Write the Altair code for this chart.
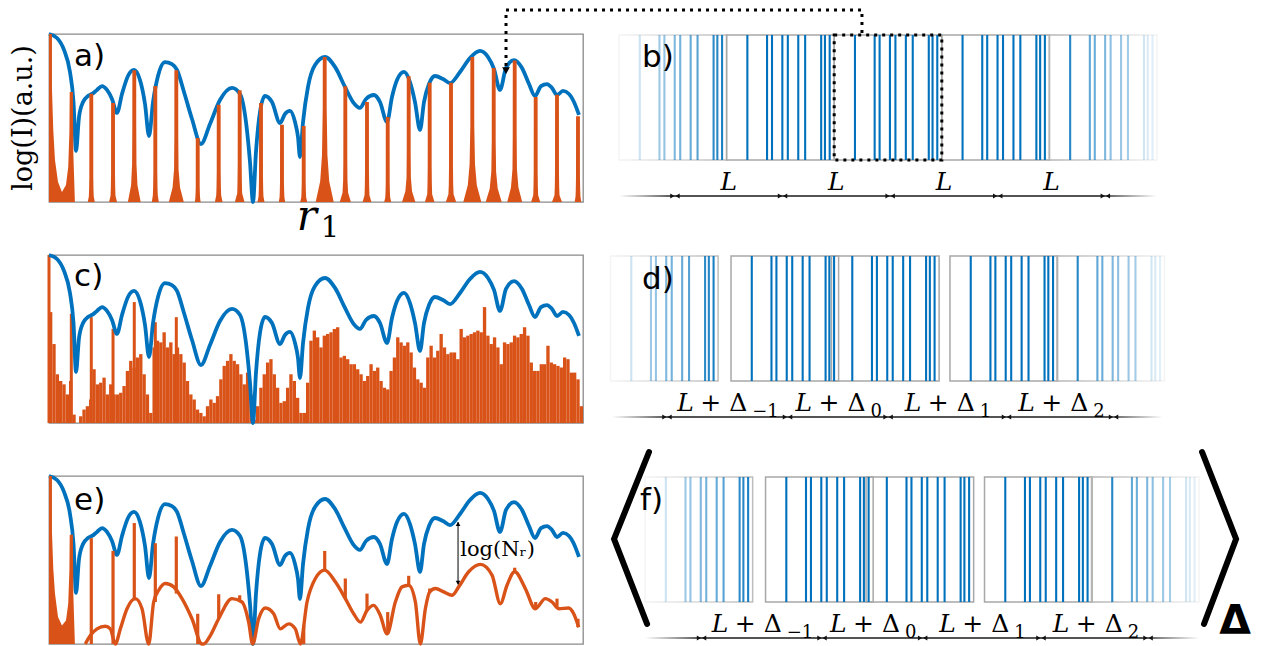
import altair as alt
import pandas as pd

BLUE = "#0072BD"
ORANGE = "#D95319"
FRAME = "#8a8a8a"
BOXGRAY = "#a8a8a8"
SERIF = "DejaVu Serif"
SANS = "DejaVu Sans"

# ---------------- left column: r1 (a.u., 0-100) vs log(I) (a.u., 0-100) ----------------
blue_x = [0, 1.5, 2.81, 3.93, 4.59, 5.06, 5.62, 6.37, 7.30, 8.05, 8.99, 9.93, 10.86, 11.80, 12.73,
          13.67, 14.79, 15.92, 17.04, 17.98, 18.73, 19.48, 20.41, 21.72, 23.03, 23.97, 25.28, 26.78,
          28.46, 30.15, 32.02, 34.27, 35.77, 36.89, 37.64, 38.20, 38.76, 39.51, 40.45, 41.76, 43.26,
          44.19, 45.13, 46.07, 46.63, 47.00, 47.57, 48.50, 49.81, 51.69, 53.56, 55.43, 56.93, 58.24,
          59.36, 60.86, 61.99, 63.30, 64.23, 65.17, 66.48, 67.60, 68.54, 69.48, 70.22, 71.16, 72.28,
          73.78, 75.09, 76.97, 78.84, 80.71, 82.21, 83.33, 84.46, 85.58, 87.08, 88.58, 89.89, 91.01,
          92.13, 93.26, 94.19, 95.13, 96.25, 97.38, 98.31, 99.25]
blue_y = [100, 97.6, 90.5, 77.4, 59.5, 30.4, 50.6, 59.5, 63.1, 64.3, 66.7, 69.0, 66.7, 61.3, 53.0,
          64.3, 75.0, 78.6, 72.6, 58.3, 39.3, 59.5, 75.0, 83.3, 82.1, 78.6, 65.5, 49.4,
          34.5, 46.4, 60.7, 67.9, 64.3, 47.6, 23.8, 0, 29.8, 53.6, 63.1, 59.5, 47.0,
          52.4, 54.2, 47.6, 38.7, 26.8, 47.6, 68.5, 81.5, 86.3, 80.4, 68.5, 59.5, 56.0,
          61.3, 63.7, 59.5, 47.6, 62.5, 72.6, 77.4, 71.4, 59.5, 42.9, 59.5, 70.2, 75.0,
          73.2, 70.8, 77.4, 85.7, 89.9, 86.3, 79.2, 66.7, 79.8, 84.5, 79.8, 70.2, 63.1,
          69.0, 70.2, 67.9, 63.7, 66.1, 64.3, 59.5, 51.8]

peak_x = [0, 4.18, 7.92, 11.99, 15.97, 19.91, 23.84, 27.85, 31.78, 35.71, 39.70, 43.63, 47.70,
          51.63, 55.49, 59.55, 63.43, 67.36, 71.29, 75.28, 79.27, 83.28, 87.21, 91.14, 95.13, 99.06]
a_peak_h = [100, 65.5, 64.5, 58.9, 78.4, 69.0, 78.4, 38.1, 57.9, 66.5, 58.9, 46.0, 45.2,
            86.3, 68.9, 59.5, 50.6, 74.8, 71.0, 71.0, 86.3, 79.8, 84.3, 62.5, 63.9, 51.0]
# base half-width and shoulder height of peaks 2..25 in a)
a_hw = [0.66, 0.75, 1.2, 0.66, 1.40, 0.55, 0.72, 0.9, 0.66, 0.6, 0.66, 1.69,
        1.05, 0.83, 0.66, 1.25, 0.9, 0.97, 1.69, 1.5, 1.40, 0.86, 0.94, 0.62]
a_sh = [15, 17, 45, 18, 39, 9, 18, 24, 15, 12, 12, 56,
        25, 18, 12, 29, 21, 21, 45, 36, 39, 18, 18, 15]
left_x = [0, 0.01, 0.55, 0.56, 0.8, 1.12, 1.69, 2.43, 3.18, 3.6, 3.82, 3.88, 4.48, 4.55, 4.85]
a_left_y = [0, 100, 100, 66.7, 42.9, 25.0, 11.9, 6.0, 10.1, 20.8, 41.7, 65.5, 65.5, 29.8, 0]
e_left_y = [0, 100, 100, 66, 45, 30, 16, 11, 14, 24, 44, 65, 65, 30, 0]

c_bin = 0.625
c_noise = [66, 47, 29, 25, 23, 17, 25, 5, 0, 4, 8, 10, 14, 32, 23, 24, 27, 17, 23, 17,
           17, 18, 22, 31, 37, 33, 39, 41, 29, 17, 6, 45, 49, 48, 54, 45, 48, 41, 45, 41,
           36, 25, 17, 14, 8, 6, 4, 10, 14, 12, 16, 26, 34, 37, 41, 37, 35, 29, 23, 30,
           17, 2, 10, 21, 29, 36, 38, 29, 21, 12, 13, 21, 29, 25, 15, 6,
           6, 24, 49, 55, 51, 45, 52, 53, 54, 56, 57, 39, 40, 38, 35, 35, 32, 29, 25, 28,
           35, 31, 33, 25, 21, 20, 31, 39, 51, 48, 46, 48, 42, 33, 26, 24, 21, 39, 46, 39,
           43, 53, 45, 41, 42, 42, 38, 56, 51, 52, 53, 54, 55, 54, 69, 52, 47, 51, 45, 35,
           48, 47, 48, 52, 51, 53, 57, 52, 36, 31, 31, 35, 35, 46, 36, 35, 34, 33, 39, 38,
           30, 30, 26, 10]
c_peak_h = [100, 65, 63, 56, 72, 60, 63]

e_curve_x = [6.80, 7.74, 8.99, 10.55, 11.49, 12.42, 13.36, 14.61, 16.17, 17.42, 18.67, 19.60,
             20.54, 21.79, 23.35, 24.91, 26.78, 28.65, 28.96, 30.21, 31.77, 34.27, 36.14, 37.39,
             38.14, 39.26, 40.51, 42.07, 43.32, 44.88, 46.13, 47.07, 48.32, 49.88, 51.63, 53.62,
             55.50, 57.06, 58.31, 59.55, 60.80, 62.05, 63.30, 64.86, 66.11, 67.36, 68.61, 69.54,
             70.48, 71.29, 72.35, 73.91, 75.47, 76.72, 78.59, 80.78, 82.96, 84.52, 85.77, 87.21,
             89.20, 91.08, 92.95, 94.20, 95.45, 97.32, 98.26, 99.19]
e_curve_y = [0, 5, 9, 10.6, 9, 0, 9, 21, 27, 21, 0, 25,
             32, 36, 34, 27, 15, 0, 0, 5, 15, 27, 25, 13,
             0, 15, 21.4, 18, 9, 12, 9, 0, 25, 39, 44, 37,
             27, 18, 13, 20, 23, 17, 6, 25, 34, 35, 25, 0,
             21, 31, 33, 31, 29, 34, 43, 47.4, 41, 24, 35, 43,
             33, 21, 27, 25, 21, 21.4, 18, 10]
e_spk_k = [2, 3, 4, 5, 6, 7, 8, 9, 12, 13, 14, 15, 16, 17, 18, 22, 23, 24, 25]
e_spk_top = [63, 55.4, 72, 60, 64, 18, 29.6, 29, 11, 55.4, 39, 30, 19, 40.6, 33, 45.4, 25, 27, 15]
e_spk_base = [0, 0, 26, 25, 30, 0, 15, 25, 0, 44, 27, 20, 6, 35, 31, 43, 21, 22, 10]

# ---------------- right column: positions in units of L, heights in units of a cell ----------------
pattern = [0.193, 0.376, 0.422, 0.518, 0.569, 0.666, 0.730, 0.879, 0.914, 0.958]
fade_in = [0.2, 0.38, 0.42, 0.5, 0.55, 0.6, 0.65, 0.82, 0.85, 0.9]
fade_out = [0.85, 0.62, 0.58, 0.5, 0.45, 0.4, 0.36, 0.18, 0.15, 0.12]
b_start = [0, 1, 2, 3, 4]
d_start = [0, 1.12, 2.054, 3.155, 4.149]
b_tick = [0.52, 1.52, 2.52, 3.52, 4.52]
d_tick = [0.525, 1.645, 2.58, 3.68, 4.675]
b_lab = [1.02, 2.02, 3.02, 4.02]
d_lab = [0.62, 1.72, 2.735, 3.79]
subs = ["\u22121", "0", "1", "2"]

W_L, H, W_R = 534, 168, 650
LX = alt.Scale(domain=[0, 100], nice=False, zero=False)
LY = alt.Scale(domain=[0, 100], nice=False, zero=False)


def lx(f="x"):
    return alt.X(f"{f}:Q", scale=LX, axis=None)


def ly(f="y"):
    return alt.Y(f"{f}:Q", scale=LY, axis=None, stack=None)


def txt(df_rows, **kw):
    df = pd.DataFrame(df_rows, columns=["x", "y", "t"])
    return alt.Chart(df).mark_text(color="black", **kw).encode(x=lx(), y=ly(), text="t:N")


def spikes_a():
    rows = []
    for xv, yv in zip(left_x, a_left_y):
        rows.append({"x": xv, "y": yv, "g": "L"})
    c = 0.36
    for k in range(2, 26):
        xc, h = peak_x[k], a_peak_h[k]
        hw, s = a_hw[k - 2], a_sh[k - 2]
        m1 = max(0.5 * hw, c + 0.1)
        m2 = max(0.3 * hw, c + 0.05)
        xs = [xc - hw, xc - m1, xc - m2, xc - c - 0.01, xc - c, xc + c, xc + c + 0.01, xc + m2, xc + m1, xc + hw]
        ys = [0, 0.22 * s, 0.5 * s, s, h, h, s, 0.5 * s, 0.22 * s, 0]
        for xv, yv in zip(xs, ys):
            rows.append({"x": xv, "y": yv, "g": f"k{k}"})
    return pd.DataFrame(rows)


blue_df = pd.DataFrame({"x": blue_x, "y": blue_y})
blue = alt.Chart(blue_df).mark_line(color=BLUE, strokeWidth=3.8, interpolate="monotone").encode(x=lx(), y=ly())

FRAME_VIEW = alt.ViewBackground(stroke=FRAME, strokeWidth=1.3)

# panel a
anchor = alt.Chart(pd.DataFrame({"x": [-8.8], "y": [119.05]})).mark_point(
    size=1, opacity=0, strokeWidth=0).encode(x=lx(), y=ly())
a_area = alt.Chart(spikes_a()).mark_area(color=ORANGE).encode(x=lx(), y=ly(), detail="g:N")
a_chart = alt.layer(
    anchor, blue, a_area,
    txt([[4.7, 81, "a)"]], font=SANS, fontSize=31, align="left", baseline="alphabetic"),
    txt([[-4.68, 50, "log(I)(a.u.)"]], font=SERIF, fontSize=27, angle=270, align="center", baseline="middle"),
    txt([[46.4, -16.7, "r"]], font=SERIF, fontSize=42, fontStyle="italic", align="left", baseline="alphabetic"),
    txt([[50.9, -20.8, "1"]], font=SERIF, fontSize=29, align="left", baseline="alphabetic"),
).properties(width=W_L, height=H, view=FRAME_VIEW)

# panel c
c_df = pd.DataFrame({"x": [i * c_bin for i in range(len(c_noise))],
                     "x2": [(i + 1) * c_bin for i in range(len(c_noise))],
                     "y": c_noise})
c_bars = alt.Chart(c_df).mark_rect(color=ORANGE).encode(
    x=lx(), x2="x2:Q", y=ly(), y2=alt.Y2(datum=0))
c_pk = pd.DataFrame({"x": peak_x[:7], "y": c_peak_h})
c_rules = alt.Chart(c_pk).mark_rule(color=ORANGE, strokeWidth=3).encode(x=lx(), y=ly(), y2=alt.Y2(datum=0))
c_chart = alt.layer(
    c_bars, c_rules, blue,
    txt([[4.7, 81.5, "c)"]], font=SANS, fontSize=31, align="left", baseline="alphabetic"),
).properties(width=W_L, height=H, view=FRAME_VIEW)

# panel e
e_left = alt.Chart(pd.DataFrame({"x": left_x, "y": e_left_y})).mark_area(color=ORANGE).encode(x=lx(), y=ly())
e_curve = alt.Chart(pd.DataFrame({"x": e_curve_x, "y": e_curve_y})).mark_line(
    color=ORANGE, strokeWidth=3.4, interpolate="monotone").encode(x=lx(), y=ly())
e_sp = pd.DataFrame({"x": [peak_x[k] for k in e_spk_k], "y": e_spk_top, "y0": e_spk_base})
e_rules = alt.Chart(e_sp).mark_rule(color=ORANGE, strokeWidth=3.2).encode(x=lx(), y=ly(), y2="y0:Q")
arr = pd.DataFrame({"x": [76.6], "y": [72.5], "y0": [35.5]})
e_arrow = alt.Chart(arr).mark_rule(color="black", strokeWidth=1).encode(x=lx(), y=ly(), y2="y0:Q")
e_head_up = alt.Chart(pd.DataFrame({"x": [76.6], "y": [71.5]})).mark_point(
    shape="triangle-up", filled=True, size=22, color="black", opacity=1).encode(x=lx(), y=ly())
e_head_dn = alt.Chart(pd.DataFrame({"x": [76.6], "y": [36.5]})).mark_point(
    shape="triangle-down", filled=True, size=22, color="black", opacity=1).encode(x=lx(), y=ly())
e_chart = alt.layer(
    blue, e_left, e_curve, e_rules, e_arrow, e_head_up, e_head_dn,
    txt([[4.7, 80, "e)"]], font=SANS, fontSize=31, align="left", baseline="alphabetic"),
    txt([[77.0, 52.4, "log(N\u1d63)"]], font=SERIF, fontSize=21, align="left", baseline="alphabetic"),
).properties(width=W_L, height=H, view=FRAME_VIEW)

# ---------------- right panels ----------------
RY = alt.Scale(domain=[-0.336, 1.008], nice=False, zero=False)
ARROW_Y = -0.288
LABEL_Y = -0.24


def grad(stops):
    return {"gradient": "linear", "x1": 0, "x2": 1, "y1": 0, "y2": 0,
            "stops": [{"offset": o, "color": c} for o, c in stops]}


def right_panel(starts, ticks, dom, span, kind, letter, letter_xy, extra=()):
    RX = alt.Scale(domain=dom, nice=False, zero=False)

    def rx(f="x"):
        return alt.X(f"{f}:Q", scale=RX, axis=None)

    def ry(f="y"):
        return alt.Y(f"{f}:Q", scale=RY, axis=None)

    n = len(starts)
    boxes_mid = pd.DataFrame({"x": starts[1:-1], "x2": [s + 1 for s in starts[1:-1]], "y": [0] * (n - 2), "y2": [1] * (n - 2)})
    box_first = pd.DataFrame({"x": [starts[0]], "x2": [starts[0] + 1], "y": [0], "y2": [1]})
    box_last = pd.DataFrame({"x": [starts[-1]], "x2": [starts[-1] + 1], "y": [0], "y2": [1]})
    lay = []
    lay.append(alt.Chart(box_first).mark_rect(fill="white", fillOpacity=0, strokeWidth=1.5,
               stroke=grad([(0, "#f4f4f4"), (1, "#bdbdbd")])).encode(x=rx(), x2="x2:Q", y=ry(), y2="y2:Q"))
    lay.append(alt.Chart(boxes_mid).mark_rect(fill="white", fillOpacity=0, strokeWidth=1.5,
               stroke=BOXGRAY).encode(x=rx(), x2="x2:Q", y=ry(), y2="y2:Q"))
    lay.append(alt.Chart(box_last).mark_rect(fill="white", fillOpacity=0, strokeWidth=1.5,
               stroke=grad([(0, "#b5b5b5"), (1, "#f4f4f4")])).encode(x=rx(), x2="x2:Q", y=ry(), y2="y2:Q"))
    rows = []
    for j, s in enumerate(starts):
        for i, p in enumerate(pattern):
            op = fade_in[i] if j == 0 else (fade_out[i] if j == n - 1 else 1.0)
            rows.append({"x": s + p, "y": 0, "y2": 1, "op": op})
    lines = pd.DataFrame(rows)
    lay.append(alt.Chart(lines).mark_rule(color=BLUE, strokeWidth=2.1).encode(
        x=rx(), y=ry(), y2="y2:Q", opacity=alt.Opacity("op:Q", scale=None)))
    base = pd.DataFrame({"x": [span[0]], "x2": [span[1]], "y": [ARROW_Y - 0.0055], "y2": [ARROW_Y + 0.0055]})
    lay.append(alt.Chart(base).mark_rect(fill=grad([(0, "#ffffff"), (0.1, "#1a1a1a"), (0.9, "#1a1a1a"), (1, "#ffffff")])).encode(
        x=rx(), x2="x2:Q", y=ry(), y2="y2:Q"))
    tk = pd.DataFrame({"x": ticks, "y": [ARROW_Y] * len(ticks)})
    lay.append(alt.Chart(tk).mark_point(shape="triangle-right", filled=True, size=24, color="#111", opacity=1, xOffset=-2.6).encode(x=rx(), y=ry()))
    lay.append(alt.Chart(tk).mark_point(shape="triangle-left", filled=True, size=24, color="#111", opacity=1, xOffset=2.6).encode(x=rx(), y=ry()))
    if kind == "b":
        ldf = pd.DataFrame({"x": b_lab, "y": [LABEL_Y] * 4, "t": ["L"] * 4})
        lay.append(alt.Chart(ldf).mark_text(font=SERIF, fontSize=25, fontStyle="italic", align="center", baseline="alphabetic", color="black").encode(x=rx(), y=ry(), text="t:N"))
    else:
        ldf = pd.DataFrame({"x": d_lab, "y": [LABEL_Y] * 4, "t": ["L"] * 4, "p": ["+"] * 4, "d": ["\u0394"] * 4, "s": subs})
        base_t = alt.Chart(ldf)
        lay.append(base_t.mark_text(font=SERIF, fontSize=25, fontStyle="italic", align="left", baseline="alphabetic", color="black").encode(x=rx(), y=ry(), text="t:N"))
        lay.append(base_t.mark_text(font=SERIF, fontSize=25, align="left", baseline="alphabetic", color="black", dx=23).encode(x=rx(), y=ry(), text="p:N"))
        lay.append(base_t.mark_text(font=SERIF, fontSize=25, align="left", baseline="alphabetic", color="black", dx=52).encode(x=rx(), y=ry(), text="d:N"))
        lay.append(base_t.mark_text(font=SERIF, fontSize=18, align="left", baseline="alphabetic", color="black", dx=75, dy=6).encode(x=rx(), y=ry(), text="s:N"))
    let = pd.DataFrame({"x": [letter_xy[0]], "y": [letter_xy[1]], "t": [letter]})
    lay.append(alt.Chart(let).mark_text(font=SANS, fontSize=31, align="left", baseline="alphabetic", color="black").encode(x=rx(), y=ry(), text="t:N"))
    for fn in extra:
        lay.extend(fn(rx, ry))
    return alt.layer(*lay).properties(width=W_R, height=H)


def b_extra(rx, ry):
    box = pd.DataFrame({"x": [2.0], "x2": [3.0], "y": [0], "y2": [1]})
    path = pd.DataFrame({"x": [-1.05, -1.05, 2.258, 2.258], "y": [0.752, 1.2, 1.2, 1.0], "o": [0, 1, 2, 3]})
    head = pd.DataFrame({"x": [-1.05], "y": [0.715]})
    return [
        alt.Chart(box).mark_rect(fill="white", fillOpacity=0, stroke="black", strokeWidth=3, strokeDash=[3, 5]).encode(
            x=rx(), x2="x2:Q", y=ry(), y2="y2:Q"),
        alt.Chart(path).mark_line(color="black", strokeWidth=3, strokeDash=[3, 5]).encode(x=rx(), y=ry(), order="o:Q"),
        alt.Chart(head).mark_point(shape="triangle-down", filled=True, size=60, color="black", opacity=1).encode(x=rx(), y=ry()),
    ]


def f_extra(rx, ry):
    br = pd.DataFrame({"x": [0.037, -0.288, 0.019, 5.177, 5.493, 5.195],
                       "y": [1.2, 0.504, -0.176, 1.2, 0.504, -0.176],
                       "g": ["l", "l", "l", "r", "r", "r"], "o": [0, 1, 2, 0, 1, 2]})
    dl = pd.DataFrame({"x": [5.483], "y": [-0.256], "t": ["\u0394"]})
    return [
        alt.Chart(br).mark_line(color="black", strokeWidth=6, strokeCap="round", strokeJoin="miter").encode(
            x=rx(), y=ry(), detail="g:N", order="o:Q"),
        alt.Chart(dl).mark_text(font=SANS, fontSize=41, fontWeight="bold", align="center", baseline="alphabetic", color="black").encode(
            x=rx(), y=ry(), text="t:N"),
    ]


b_chart = right_panel(b_start, b_tick, [-0.158, 5.883], [0.0, 5.0], "b", "b)", (0.214, 0.744), (b_extra,))
d_chart = right_panel(d_start, d_tick, [-0.079, 5.962], [0.014, 5.13], "d", "d)", (0.293, 0.736))
f_chart = right_panel(d_start, d_tick, [-0.400, 5.641], [0.0, 5.15], "f", "f)", (-0.046, 0.736), (f_extra,))

chart = alt.concat(a_chart, b_chart, c_chart, d_chart, e_chart, f_chart, columns=2,
                   spacing={"row": 53, "column": 19}, bounds="flush").resolve_scale(
    x="independent", y="independent").properties(padding=0).configure_view(stroke="transparent")

chart.save("out.html", embed_options={"renderer": "svg", "actions": False})
